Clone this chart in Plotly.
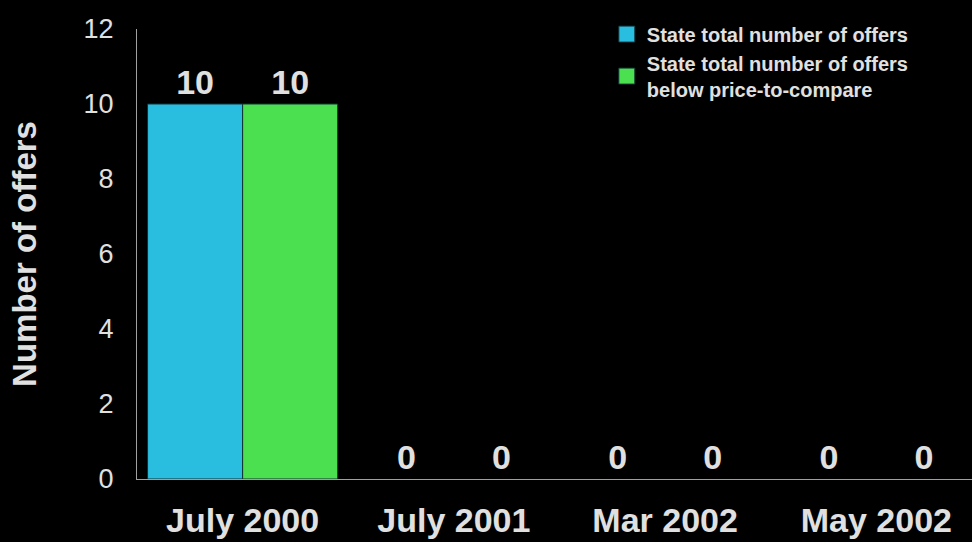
import plotly.graph_objects as go

categories = ["July 2000", "July 2001", "Mar 2002", "May 2002"]
total_offers = [10, 0, 0, 0]
below_ptc = [10, 0, 0, 0]
series_names = ["State total number of offers",
                "State total number of offers<br>below price-to-compare"]
series_colors = ["#29bde0", "#4ae04f"]
y_ticks = [0, 2, 4, 6, 8, 10, 12]

TXT = "#e0e0e0"
FONT = "Liberation Sans, Arial, sans-serif"

fig = go.Figure()
for vals, name, col in zip([total_offers, below_ptc], series_names, series_colors):
    fig.add_trace(go.Bar(
        x=categories, y=vals, name=name, showlegend=False,
        marker=dict(color=col,
                    line=dict(color="#123035",
                              width=[1 if v > 0 else 0 for v in vals])),
        text=[str(v) for v in vals], textposition="outside",
        textfont=dict(size=34, color=TXT, family=FONT, weight="bold"),
        cliponaxis=False, hoverinfo="skip",
    ))
# legend proxies (no data drawn)
for name, col in zip(series_names, series_colors):
    fig.add_trace(go.Scatter(
        x=[None], y=[None], mode="markers", name=name,
        marker=dict(symbol="square", size=18, color=col,
                    line=dict(color="#123035", width=1)),
    ))

fig.update_layout(
    width=982, height=542,
    paper_bgcolor="black", plot_bgcolor="black",
    margin=dict(l=137, r=0, t=29, b=63),
    barmode="group", bargap=0.1, bargroupgap=0,
    font=dict(family=FONT, color=TXT),
    showlegend=True,
    legend=dict(
        x=0.556, y=1.032, xanchor="left", yanchor="top",
        bgcolor="rgba(0,0,0,0)",
        font=dict(size=20, color=TXT, family=FONT, weight="bold"),
        tracegroupgap=0, itemsizing="trace",
    ),
    xaxis=dict(
        automargin=False,
        showline=True, linecolor="#a0a0a0", linewidth=1,
        showgrid=False, zeroline=False,
        ticks="outside", ticklen=11, tickcolor="black",
        tickfont=dict(size=34, color=TXT, family=FONT, weight="bold"),
    ),
    yaxis=dict(
        automargin=False,
        range=[0, 12], tickvals=y_ticks,
        showline=True, linecolor="#a0a0a0", linewidth=1,
        showgrid=False, zeroline=False,
        ticks="outside", ticklen=17, tickcolor="black",
        tickfont=dict(size=27, color=TXT, family=FONT),
        title=dict(text="Number of offers", standoff=37,
                   font=dict(size=33, color=TXT, family=FONT, weight="bold")),
    ),
)

fig.write_html("out.html", config={"displayModeBar": False},
               post_script="document.body.style.margin='0';document.body.style.overflow='hidden';")
